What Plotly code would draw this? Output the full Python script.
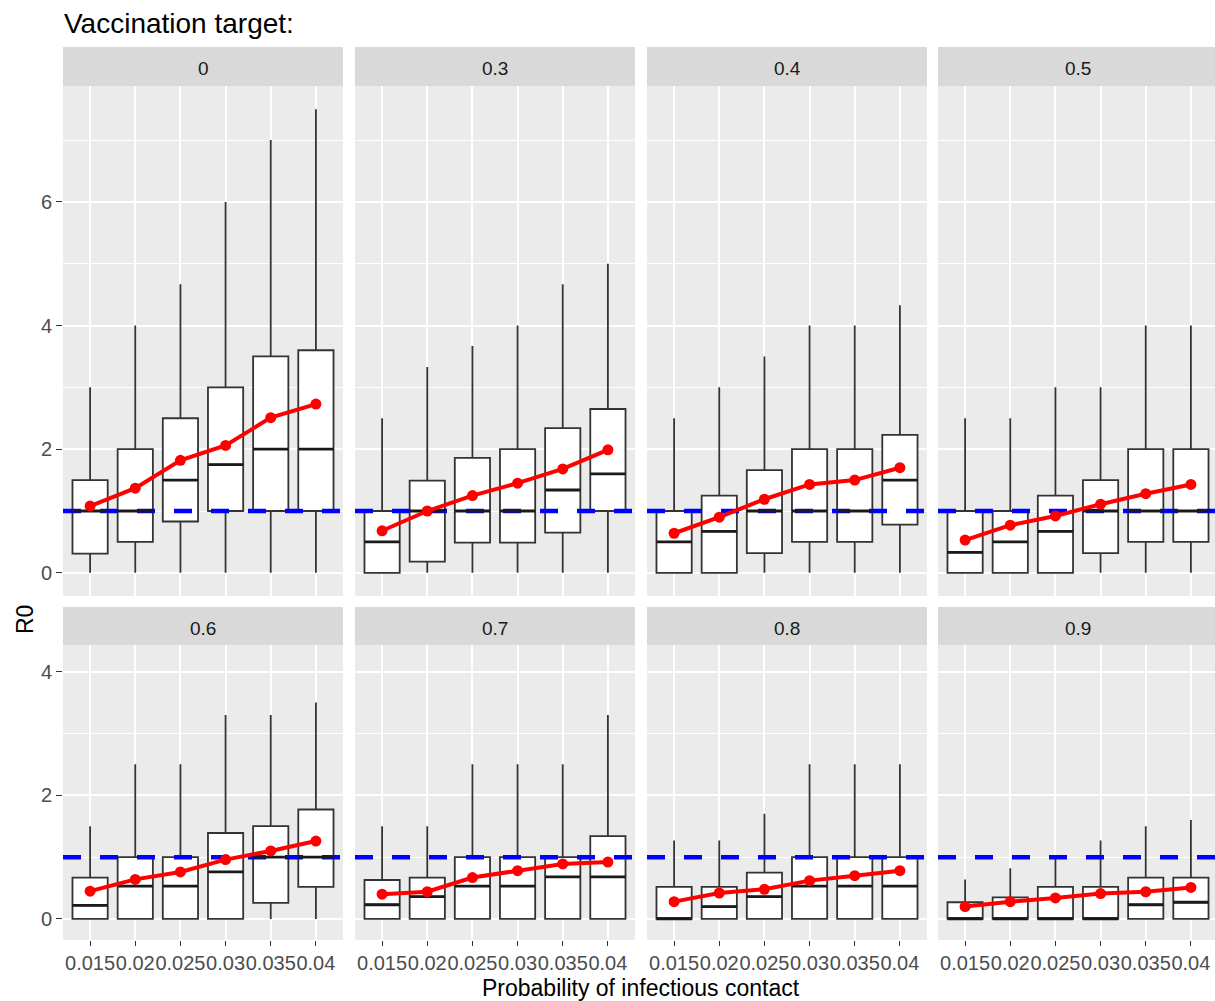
import plotly.graph_objects as go

# Probability of infectious contact (x categories) and vaccination targets (facets)
probs = ["0.015", "0.02", "0.025", "0.03", "0.035", "0.04"]
targets = ["0", "0.3", "0.4", "0.5", "0.6", "0.7", "0.8", "0.9"]

# Box statistics of R0, one row per vaccination target
lower = [
    [0, 0, 0, 0, 0, 0],
    [0, 0, 0, 0, 0, 0],
    [0, 0, 0, 0, 0, 0],
    [0, 0, 0, 0, 0, 0],
    [0, 0, 0, 0, 0, 0],
    [0, 0, 0, 0, 0, 0],
    [0, 0, 0, 0, 0, 0],
    [0, 0, 0, 0, 0, 0],
]
q1 = [
    [0.31, 0.5, 0.83, 1.0, 1.0, 1.0],
    [0, 0.18, 0.49, 0.49, 0.65, 1.0],
    [0, 0, 0.32, 0.5, 0.5, 0.78],
    [0, 0, 0, 0.32, 0.5, 0.5],
    [0, 0, 0, 0, 0.26, 0.52],
    [0, 0, 0, 0, 0, 0],
    [0, 0, 0, 0, 0, 0],
    [0, 0, 0, 0, 0, 0],
]
median = [
    [1.0, 1.0, 1.5, 1.75, 2.0, 2.0],
    [0.5, 1.0, 1.0, 1.0, 1.34, 1.6],
    [0.5, 0.67, 1.0, 1.0, 1.0, 1.5],
    [0.33, 0.5, 0.67, 1.0, 1.0, 1.0],
    [0.22, 0.53, 0.53, 0.76, 1.0, 1.0],
    [0.23, 0.36, 0.53, 0.53, 0.68, 0.68],
    [0, 0.2, 0.36, 0.53, 0.53, 0.53],
    [0, 0, 0, 0, 0.23, 0.27],
]
q3 = [
    [1.5, 2.0, 2.5, 3.0, 3.5, 3.6],
    [1.0, 1.49, 1.86, 2.0, 2.34, 2.65],
    [1.0, 1.25, 1.66, 2.0, 2.0, 2.23],
    [1.0, 1.0, 1.25, 1.5, 2.0, 2.0],
    [0.67, 1.0, 1.0, 1.39, 1.5, 1.77],
    [0.63, 0.67, 1.0, 1.0, 1.0, 1.34],
    [0.52, 0.52, 0.75, 1.0, 1.0, 1.0],
    [0.27, 0.35, 0.52, 0.52, 0.67, 0.67],
]
upper = [
    [3.0, 4.0, 4.67, 6.0, 7.0, 7.5],
    [2.5, 3.33, 3.67, 4.0, 4.67, 5.0],
    [2.5, 3.0, 3.5, 4.0, 4.0, 4.33],
    [2.5, 2.5, 3.0, 3.0, 4.0, 4.0],
    [1.5, 2.5, 2.5, 3.3, 3.3, 3.5],
    [1.5, 1.5, 2.5, 2.5, 2.5, 3.3],
    [1.27, 1.27, 1.7, 2.5, 2.5, 2.5],
    [0.64, 0.82, 1.0, 1.27, 1.5, 1.6],
]
mean = [
    [1.08, 1.37, 1.82, 2.06, 2.51, 2.73],
    [0.68, 1.0, 1.25, 1.45, 1.68, 1.99],
    [0.64, 0.9, 1.19, 1.43, 1.5, 1.7],
    [0.53, 0.77, 0.92, 1.11, 1.28, 1.43],
    [0.45, 0.64, 0.76, 0.96, 1.1, 1.26],
    [0.4, 0.44, 0.67, 0.78, 0.89, 0.92],
    [0.28, 0.42, 0.48, 0.62, 0.7, 0.78],
    [0.2, 0.28, 0.34, 0.41, 0.44, 0.51],
]
threshold = 1.0

W, H = 1215, 1001
FONT = "Liberation Sans, Arial, sans-serif"
pos = list(range(1, len(probs) + 1))
box_w = 0.78

# Panel geometry in pixels
col_px = [(63, 343), (355, 635), (647, 927), (938, 1218)]
row_px = [(86, 596), (645, 940)]
strip_px = [(47, 86), (607, 645)]
row_range = [(-0.375, 7.875), (-0.34, 4.43)]
row_major = [[0, 2, 4, 6], [0, 2, 4]]
row_minor = [[1, 3, 5, 7], [1, 3]]
px_per_unit = 280 / 6.2


def xp(px):
    return px / W


def yp(py):
    return 1 - py / H


fig = go.Figure()
layout = {}
shapes = []
annotations = []

for i, tgt in enumerate(targets):
    n = i + 1
    xa = "x" if n == 1 else f"x{n}"
    ya = "y" if n == 1 else f"y{n}"
    fig.add_trace(go.Box(
        x=pos, q1=q1[i], median=median[i], q3=q3[i],
        lowerfence=lower[i], upperfence=upper[i],
        width=box_w, whiskerwidth=0, boxpoints=False,
        fillcolor="white", line=dict(color="#333333", width=1.8),
        xaxis=xa, yaxis=ya, showlegend=False, hoverinfo="skip",
    ))

for i, tgt in enumerate(targets):
    n = i + 1
    xa = "x" if n == 1 else f"x{n}"
    ya = "y" if n == 1 else f"y{n}"
    # reference line R0 = 1
    fig.add_trace(go.Scatter(
        x=[0.4, 6.6], y=[threshold, threshold], mode="lines",
        line=dict(color="#0000FF", width=4.5, dash="18px,19px"),
        xaxis=xa, yaxis=ya, showlegend=False, hoverinfo="skip",
    ))
    # thicker median bars
    mx, my = [], []
    for p, m in zip(pos, median[i]):
        mx += [p - box_w / 2, p + box_w / 2, None]
        my += [m, m, None]
    fig.add_trace(go.Scatter(
        x=mx, y=my, mode="lines", line=dict(color="#1A1A1A", width=2.8),
        xaxis=xa, yaxis=ya, showlegend=False, hoverinfo="skip",
    ))
    # mean R0
    fig.add_trace(go.Scatter(
        x=pos, y=mean[i], mode="lines+markers",
        line=dict(color="#FF0000", width=4),
        marker=dict(color="#FF0000", size=11),
        xaxis=xa, yaxis=ya, showlegend=False, hoverinfo="skip",
    ))

for i, tgt in enumerate(targets):
    r, c = divmod(i, 4)
    n = i + 1
    x0, x1 = col_px[c]
    y0, y1 = row_px[r]
    xr_hi = 0.4 + (min(x1, W) - x0) / px_per_unit
    xkey = "xaxis" if n == 1 else f"xaxis{n}"
    ykey = "yaxis" if n == 1 else f"yaxis{n}"
    layout[xkey] = dict(
        domain=[xp(x0), xp(min(x1, W))], range=[0.4, xr_hi],
        anchor="y" if n == 1 else f"y{n}",
        tickmode="array", tickvals=pos, ticktext=probs, tickangle=0,
        showticklabels=(r == 1), ticks="outside" if r == 1 else "",
        ticklen=5, tickwidth=1.4, tickcolor="#333333",
        tickfont=dict(family=FONT, size=20, color="#4D4D4D"),
        showgrid=True, gridcolor="white", gridwidth=1.6,
        zeroline=False, showline=False, fixedrange=True, automargin=False,
    )
    layout[ykey] = dict(
        domain=[yp(y1), yp(y0)], range=list(row_range[r]),
        anchor="x" if n == 1 else f"x{n}",
        tickmode="array", tickvals=row_major[r], tickangle=0,
        ticktext=[str(v) for v in row_major[r]],
        showticklabels=(c == 0), ticks="outside" if c == 0 else "",
        ticklen=6, tickwidth=1.4, tickcolor="#333333",
        tickfont=dict(family=FONT, size=20, color="#4D4D4D"),
        showgrid=True, gridcolor="white", gridwidth=1.6,
        minor=dict(tickvals=row_minor[r], showgrid=True,
                   gridcolor="white", gridwidth=0.8, ticks=""),
        zeroline=False, showline=False, fixedrange=True, automargin=False,
    )
    # facet strip
    s0, s1 = strip_px[r]
    shapes.append(dict(
        type="rect", xref="paper", yref="paper",
        x0=xp(x0), x1=xp(min(x1, W)), y0=yp(s1), y1=yp(s0),
        fillcolor="#D9D9D9", line=dict(width=0), layer="below",
    ))
    annotations.append(dict(
        text=tgt, xref="paper", yref="paper",
        x=xp((x0 + x1) / 2), y=yp((s0 + s1) / 2 + 2),
        xanchor="center", yanchor="middle", showarrow=False,
        font=dict(family=FONT, size=19, color="#1A1A1A"),
    ))

annotations += [
    dict(text="Vaccination target:", xref="paper", yref="paper",
         x=xp(62), y=yp(23), xanchor="left", yanchor="middle",
         showarrow=False, font=dict(family=FONT, size=28, color="black")),
    dict(text="Probability of infectious contact", xref="paper", yref="paper",
         x=xp(641), y=yp(988), xanchor="center", yanchor="middle",
         showarrow=False, font=dict(family=FONT, size=23, color="black")),
    dict(text="R0", xref="paper", yref="paper", textangle=-90,
         x=xp(25), y=yp(620), xanchor="center", yanchor="middle",
         showarrow=False, font=dict(family=FONT, size=23, color="black")),
]

fig.update_layout(
    width=W, height=H,
    margin=dict(l=0, r=0, t=0, b=0),
    paper_bgcolor="white", plot_bgcolor="#EBEBEB",
    showlegend=False,
    shapes=shapes, annotations=annotations,
    **layout,
)

fig.write_html("out.html")
